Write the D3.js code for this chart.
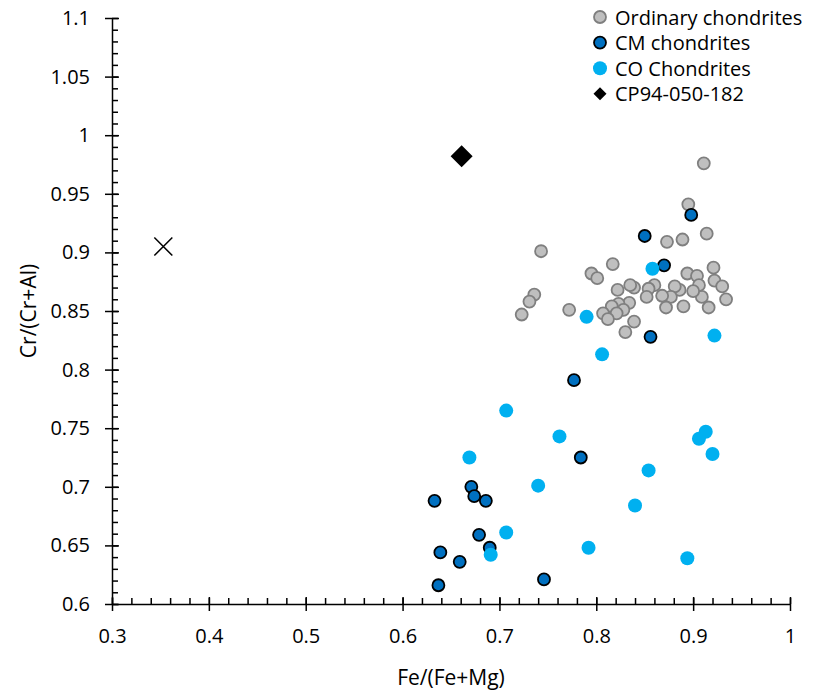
<!DOCTYPE html>
<html>
<head>
<meta charset="utf-8">
<script src="https://cdn.jsdelivr.net/npm/d3@7"></script>
<style>
  body { margin: 0; background: #fff; }
  svg text { font-family: "Open Sans", sans-serif; fill: #000; }
</style>
</head>
<body>
<svg id="chart" width="814" height="694"></svg>
<script>
// values
const ordinaryFe = [0.911, 0.895, 0.914, 0.873, 0.889, 0.743, 0.817, 0.795, 0.801, 0.894, 0.904,
  0.921, 0.922, 0.930, 0.934, 0.916, 0.909, 0.906, 0.900, 0.890, 0.886, 0.881, 0.877, 0.872,
  0.868, 0.860, 0.854, 0.852, 0.839, 0.835, 0.822, 0.834, 0.823, 0.816, 0.828, 0.821, 0.807,
  0.812, 0.839, 0.830, 0.772, 0.736, 0.731, 0.723];
const ordinaryCr = [0.976, 0.941, 0.916, 0.909, 0.911, 0.901, 0.890, 0.882, 0.878, 0.882, 0.880,
  0.887, 0.876, 0.871, 0.860, 0.853, 0.862, 0.872, 0.867, 0.854, 0.868, 0.871, 0.862, 0.853,
  0.863, 0.872, 0.869, 0.862, 0.870, 0.872, 0.868, 0.857, 0.856, 0.854, 0.851, 0.848, 0.848,
  0.843, 0.841, 0.832, 0.851, 0.864, 0.858, 0.847];

const cmFe = [0.898, 0.850, 0.870, 0.856, 0.777, 0.784, 0.671, 0.674, 0.686, 0.633, 0.679,
  0.690, 0.639, 0.659, 0.637, 0.746];
const cmCr = [0.932, 0.914, 0.889, 0.828, 0.791, 0.725, 0.700, 0.692, 0.688, 0.688, 0.659,
  0.648, 0.644, 0.636, 0.616, 0.621];

const coFe = [0.858, 0.790, 0.922, 0.806, 0.707, 0.762, 0.669, 0.913, 0.906, 0.920, 0.854,
  0.740, 0.840, 0.707, 0.691, 0.792, 0.894];
const coCr = [0.886, 0.845, 0.829, 0.813, 0.765, 0.743, 0.725, 0.747, 0.741, 0.728, 0.714,
  0.701, 0.684, 0.661, 0.642, 0.648, 0.639];

const cp94Fe = [0.661];
const cp94Cr = [0.982];

// extra point drawn as a cross, no legend entry
const crossFe = [0.353];
const crossCr = [0.905];

const xTicks = [0.3, 0.4, 0.5, 0.6, 0.7, 0.8, 0.9, 1];
const yTicks = [0.6, 0.65, 0.7, 0.75, 0.8, 0.85, 0.9, 0.95, 1, 1.05, 1.1];

const legendNames = ["Ordinary chondrites", "CM chondrites", "CO Chondrites", "CP94-050-182"];

const svg = d3.select("#chart");
const plotLeft = 112, plotRight = 790, plotTop = 18, plotBottom = 604;

const x = d3.scaleLinear().domain([0.3, 1]).range([plotLeft, plotRight]);
const y = d3.scaleLinear().domain([0.6, 1.1]).range([plotBottom, plotTop]);

// minor ticks (inside)
svg.append("g")
  .attr("transform", "translate(0," + plotBottom + ")")
  .call(d3.axisBottom(x).tickValues(d3.range(30, 101, 2).map(d => d / 100)).tickSize(-6).tickFormat(""))
  .call(g => g.select(".domain").remove())
  .selectAll("line").attr("stroke", "#000").attr("stroke-width", 1.5);

svg.append("g")
  .attr("transform", "translate(" + plotLeft + ",0)")
  .call(d3.axisLeft(y).tickValues(d3.range(60, 111, 1).map(d => d / 100)).tickSize(-6).tickFormat(""))
  .call(g => g.select(".domain").remove())
  .selectAll("line").attr("stroke", "#000").attr("stroke-width", 1.5);

// major axes
const xAxis = svg.append("g")
  .attr("transform", "translate(0," + plotBottom + ")")
  .call(d3.axisBottom(x).tickValues(xTicks).tickSize(7).tickPadding(18).tickSizeOuter(0).tickFormat(d3.format("")));
xAxis.selectAll(".tick line").attr("y1", -7);
xAxis.selectAll("text").attr("font-size", 20).attr("font-family", "Open Sans, sans-serif");

const yAxis = svg.append("g")
  .attr("transform", "translate(" + plotLeft + ",0)")
  .call(d3.axisLeft(y).tickValues(yTicks).tickSize(7).tickPadding(15).tickSizeOuter(0).tickFormat(d3.format("")));
yAxis.selectAll(".tick line").attr("x1", 7);
yAxis.selectAll("text").attr("font-size", 20).attr("font-family", "Open Sans, sans-serif");

svg.selectAll(".domain").attr("stroke", "#000").attr("stroke-width", 1.5);
svg.selectAll(".tick line").attr("stroke", "#000").attr("stroke-width", 1.5);

// axis titles
svg.append("text")
  .attr("x", (plotLeft + plotRight) / 2).attr("y", 677)
  .attr("text-anchor", "middle").attr("dominant-baseline", "central")
  .attr("font-size", 21)
  .text("Fe/(Fe+Mg)");

svg.append("text")
  .attr("transform", "translate(28," + (plotTop + plotBottom) / 2 + ") rotate(-90)")
  .attr("text-anchor", "middle").attr("dominant-baseline", "central")
  .attr("font-size", 21)
  .text("Cr/(Cr+Al)");

// series
const pts = (fe, cr) => fe.map((d, i) => [d, cr[i]]);

svg.append("g").selectAll("circle")
  .data(pts(ordinaryFe, ordinaryCr)).join("circle")
  .attr("cx", d => x(d[0])).attr("cy", d => y(d[1])).attr("r", 6)
  .attr("fill", "#bfbfbf").attr("stroke", "#7f7f7f").attr("stroke-width", 1.8);

svg.append("g").selectAll("circle")
  .data(pts(cmFe, cmCr)).join("circle")
  .attr("cx", d => x(d[0])).attr("cy", d => y(d[1])).attr("r", 6)
  .attr("fill", "#0070c0").attr("stroke", "#000").attr("stroke-width", 1.8);

svg.append("g").selectAll("circle")
  .data(pts(coFe, coCr)).join("circle")
  .attr("cx", d => x(d[0])).attr("cy", d => y(d[1])).attr("r", 7)
  .attr("fill", "#00b0f0");

svg.append("g").selectAll("path")
  .data(pts(cp94Fe, cp94Cr)).join("path")
  .attr("transform", d => "translate(" + x(d[0]) + "," + y(d[1]) + ")")
  .attr("d", "M0,-11L11,0L0,11L-11,0Z")
  .attr("fill", "#000");

svg.append("g").selectAll("path")
  .data(pts(crossFe, crossCr)).join("path")
  .attr("transform", d => "translate(" + x(d[0]) + "," + y(d[1]) + ")")
  .attr("d", "M-9,-9L9,9M9,-9L-9,9")
  .attr("stroke", "#000").attr("stroke-width", 1.5).attr("fill", "none");

// legend
const legend = svg.append("g").attr("transform", "translate(600,17)");
legendNames.forEach((name, i) => {
  const row = legend.append("g").attr("transform", "translate(0," + (i * 25.6) + ")");
  if (i === 0) row.append("circle").attr("r", 6).attr("fill", "#bfbfbf").attr("stroke", "#7f7f7f").attr("stroke-width", 1.8);
  if (i === 1) row.append("circle").attr("r", 6).attr("fill", "#0070c0").attr("stroke", "#000").attr("stroke-width", 1.8);
  if (i === 2) row.append("circle").attr("r", 7).attr("fill", "#00b0f0");
  if (i === 3) row.append("path").attr("d", "M0,-6.5L6.5,0L0,6.5L-6.5,0Z").attr("fill", "#000");
  row.append("text").attr("x", 15).attr("dominant-baseline", "central")
    .attr("font-size", 20).text(name);
});
</script>
</body>
</html>
